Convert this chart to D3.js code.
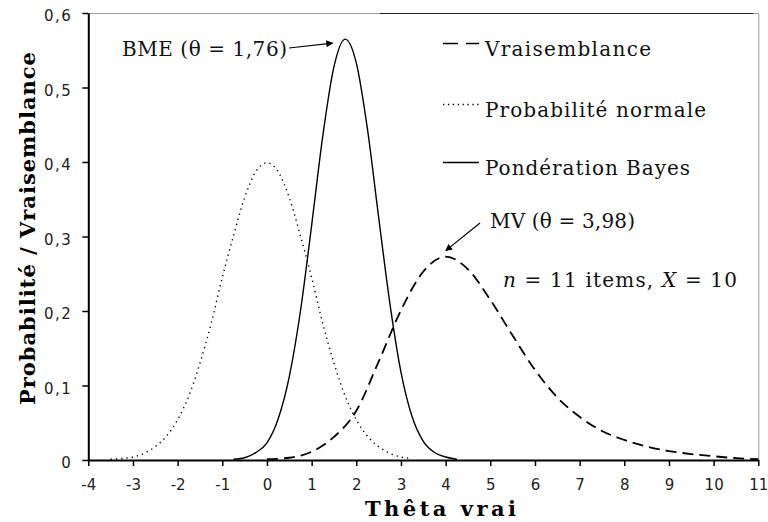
<!DOCTYPE html>
<html>
<head>
<meta charset="utf-8">
<script src="https://cdn.jsdelivr.net/npm/d3@7"></script>
<style>
  body { margin: 0; background: #fff; }
  svg { display: block; }
  .tick text { font-family: "DejaVu Sans", sans-serif; font-size: 15px; fill: #222; }
  .lbl { font-family: "DejaVu Serif", serif; font-size: 20px; fill: #111; }
  .ttl { font-family: "DejaVu Serif", serif; font-size: 21px; font-weight: bold; fill: #000; }
</style>
</head>
<body>
<svg id="chart" width="768" height="522"></svg>
<script>
// ---- data ----
const priorTheta = [-3.5, -3.25, -3, -2.75, -2.5, -2.25, -2, -1.75, -1.5, -1.25, -1, -0.75, -0.5, -0.25,
                    0, 0.25, 0.5, 0.75, 1, 1.25, 1.5, 1.75, 2, 2.25, 2.5, 2.75, 3, 3.25];
const priorValues = [0.001, 0.002, 0.004, 0.009, 0.018, 0.032, 0.054, 0.086, 0.130, 0.183, 0.245, 0.301, 0.352, 0.387,
                     0.399, 0.387, 0.352, 0.301, 0.245, 0.183, 0.130, 0.086, 0.054, 0.032, 0.018, 0.009, 0.004, 0.002];

const bayesTheta = [-0.75, -0.5, -0.25, 0, 0.25, 0.5, 0.75, 1, 1.25, 1.5, 1.75, 2, 2.25, 2.5, 2.75, 3, 3.25, 3.5, 3.75, 4, 4.25];
const bayesValues = [0.001, 0.003, 0.010, 0.023, 0.055, 0.112, 0.200, 0.315, 0.435, 0.528, 0.565, 0.533, 0.444, 0.326, 0.211, 0.118, 0.058, 0.025, 0.010, 0.004, 0.001];

const likTheta = [0, 0.5, 1, 1.5, 2, 2.5, 3, 3.5, 4, 4.5, 5, 5.5, 6, 6.5, 7, 7.5, 8, 8.5, 9, 9.5, 10, 10.5, 11];
const likValues = [0.001, 0.003, 0.011, 0.031, 0.066, 0.132, 0.201, 0.253, 0.273, 0.256, 0.215, 0.167, 0.121, 0.084, 0.058, 0.039, 0.027, 0.018, 0.012, 0.008, 0.005, 0.0025, 0.001];

const xTicks = [-4, -3, -2, -1, 0, 1, 2, 3, 4, 5, 6, 7, 8, 9, 10, 11];
const yTicks = [0, 0.1, 0.2, 0.3, 0.4, 0.5, 0.6];

const legendNames = ['Vraisemblance', 'Probabilité normale', 'Pondération Bayes'];

// ---- layout ----
const plotLeft = 88.3, plotRight = 758.3, plotTop = 13, plotBottom = 460;
const svg = d3.select('#chart');

const x = d3.scaleLinear().domain([-4, 11]).range([plotLeft, plotRight]);
const y = d3.scaleLinear().domain([0, 0.6]).range([plotBottom, plotTop]);

// frame (top + right, grey)
svg.append('line').attr('x1', plotLeft).attr('x2', plotRight).attr('y1', plotTop + 0.5).attr('y2', plotTop + 0.5)
  .attr('stroke', '#999').attr('stroke-width', 1);
svg.append('line').attr('x1', 380).attr('x2', 753).attr('y1', plotTop + 0.5).attr('y2', plotTop + 0.5)
  .attr('stroke', '#222').attr('stroke-width', 1);
svg.append('line').attr('x1', plotRight + 0.5).attr('x2', plotRight + 0.5).attr('y1', plotTop).attr('y2', plotBottom)
  .attr('stroke', '#999').attr('stroke-width', 1);

// ---- axes ----
const fmt = d => d === 0 ? '0' : d.toFixed(1).replace('.', ',');

const yAxis = svg.append('g')
  .attr('transform', `translate(${plotLeft},0)`)
  .call(d3.axisLeft(y).tickValues(yTicks).tickFormat(fmt).tickSize(6).tickSizeOuter(0).tickPadding(10));
yAxis.selectAll('text').attr('dy', '0.5em').attr('letter-spacing', '1.5px');

const xAxis = svg.append('g')
  .attr('transform', `translate(0,${plotBottom})`)
  .call(d3.axisBottom(x).tickValues(xTicks).tickFormat(d => d).tickSize(6).tickSizeOuter(0).tickPadding(13));

svg.selectAll('.domain').attr('stroke', '#000').attr('stroke-width', 2);
svg.selectAll('.tick line').attr('stroke', '#000').attr('stroke-width', 1.5);

// ---- curves ----
const line = d3.line()
  .x(d => x(d[0]))
  .y(d => y(d[1]))
  .curve(d3.curveMonotoneX);

svg.append('path')
  .datum(d3.zip(priorTheta, priorValues))
  .attr('d', line)
  .attr('fill', 'none').attr('stroke', '#000').attr('stroke-width', 1.4)
  .attr('stroke-dasharray', '1.3,4');

svg.append('path')
  .datum(d3.zip(bayesTheta, bayesValues))
  .attr('d', line)
  .attr('fill', 'none').attr('stroke', '#000').attr('stroke-width', 1.4);

svg.append('path')
  .datum(d3.zip(likTheta, likValues))
  .attr('d', line)
  .attr('fill', 'none').attr('stroke', '#000').attr('stroke-width', 1.8)
  .attr('stroke-dasharray', '11,6');

// ---- legend ----
const legendY = [43.5, 104.5, 162.5];
const legendDash = ['15,8', '1.3,3.6', null];
const legendLen = [166, 221, 205];
legendNames.forEach((name, i) => {
  svg.append('line')
    .attr('x1', 443).attr('x2', 479).attr('y1', legendY[i]).attr('y2', legendY[i])
    .attr('stroke', '#000').attr('stroke-width', i === 0 ? 1.6 : 1.4)
    .attr('stroke-dasharray', legendDash[i]);
  svg.append('text')
    .attr('class', 'lbl')
    .attr('x', 485).attr('y', legendY[i] + 12)
    .attr('textLength', legendLen[i]).attr('lengthAdjust', 'spacing')
    .text(name);
});

// ---- annotations ----
svg.append('defs').append('marker')
  .attr('id', 'arrow').attr('viewBox', '0 0 10 10')
  .attr('refX', 9).attr('refY', 5)
  .attr('markerWidth', 9).attr('markerHeight', 7)
  .attr('markerUnits', 'userSpaceOnUse')
  .attr('orient', 'auto')
  .append('path').attr('d', 'M0,0 L10,5 L0,10 Z').attr('fill', '#000');

svg.append('text').attr('class', 'lbl')
  .attr('x', 122).attr('y', 56).attr('textLength', 165).attr('lengthAdjust', 'spacing')
  .text('BME (θ = 1,76)');
svg.append('line')
  .attr('x1', 289).attr('y1', 48).attr('x2', x(1.76) - 13).attr('y2', y(0.565) + 4)
  .attr('stroke', '#000').attr('stroke-width', 1.2).attr('marker-end', 'url(#arrow)');

svg.append('text').attr('class', 'lbl')
  .attr('x', 490).attr('y', 228).attr('textLength', 145).attr('lengthAdjust', 'spacing')
  .text('MV (θ = 3,98)');
svg.append('line')
  .attr('x1', 480).attr('y1', 223).attr('x2', x(3.98) + 1).attr('y2', y(0.273) - 6)
  .attr('stroke', '#000').attr('stroke-width', 1.2).attr('marker-end', 'url(#arrow)');

const note = svg.append('text').attr('class', 'lbl')
  .attr('x', 503).attr('y', 287).attr('textLength', 234).attr('lengthAdjust', 'spacing');
note.append('tspan').attr('font-style', 'italic').text('n');
note.append('tspan').text(' = 11 items, ');
note.append('tspan').attr('font-style', 'italic').text('X');
note.append('tspan').text(' = 10');

// ---- axis titles ----
svg.append('text').attr('class', 'ttl')
  .attr('x', 440.5).attr('y', 516).attr('text-anchor', 'middle')
  .attr('textLength', 151).attr('lengthAdjust', 'spacing')
  .text('Thêta vrai');

svg.append('text').attr('class', 'ttl')
  .attr('transform', 'translate(35,228.5) rotate(-90)')
  .attr('text-anchor', 'middle')
  .attr('textLength', 353).attr('lengthAdjust', 'spacing')
  .text('Probabilité / Vraisemblance');
</script>
</body>
</html>
